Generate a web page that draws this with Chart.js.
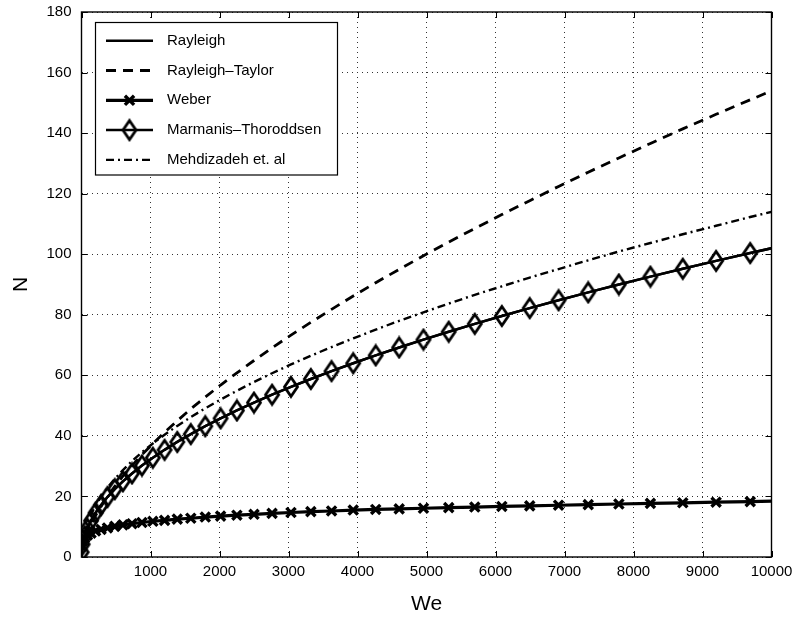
<!DOCTYPE html>
<html>
<head>
<meta charset="utf-8">
<script src="https://cdn.jsdelivr.net/npm/chart.js@4.4.1/dist/chart.umd.min.js"></script>
<style>
html,body{margin:0;padding:0;background:#fff;}
#wrap{width:795px;height:618px;}
</style>
</head>
<body>
<div id="wrap"><canvas id="c" width="795" height="618"></canvas></div>
<script>
// ---- data ----
const weValues = [2, 17, 44, 85, 138, 204, 284, 376, 482, 600, 732, 876, 1034, 1204, 1388, 1584, 1794, 2016, 2252, 2500,
  2762, 3036, 3324, 3624, 3938, 4264, 4604, 4956, 5322, 5700, 6092, 6496, 6914, 7344, 7788, 8245, 8714, 9197, 9692, 10201];

const rayleighN = [1.6, 4.2, 6.8, 9.4, 12.0, 14.6, 17.2, 19.8, 22.4, 25.0, 27.6, 30.2, 32.8, 35.4, 38.0, 40.6, 43.2, 45.8, 48.4, 51.0,
  53.6, 56.2, 58.8, 61.4, 64.0, 66.6, 69.2, 71.8, 74.4, 77.0, 79.6, 82.2, 84.8, 87.4, 90.0, 92.6, 95.2, 97.8, 100.4, 103.0];

const rayleighTaylorN = [0.9, 2.9, 5.3, 7.9, 10.7, 13.7, 16.7, 20.0, 23.3, 26.7, 30.2, 33.8, 37.4, 41.2, 45.0, 48.9, 52.8, 56.8, 60.8, 64.9,
  69.1, 73.3, 77.5, 81.8, 86.2, 90.6, 95.0, 99.5, 104.0, 108.5, 113.1, 117.7, 122.4, 127.1, 131.8, 136.6, 141.4, 146.2, 151.0, 155.9];

const weberN = [3.6, 5.2, 6.3, 7.2, 7.9, 8.6, 9.1, 9.6, 10.1, 10.6, 11.0, 11.4, 11.8, 12.1, 12.5, 12.8, 13.2, 13.5, 13.8, 14.1,
  14.4, 14.7, 15.0, 15.2, 15.5, 15.7, 15.9, 16.1, 16.3, 16.5, 16.7, 16.9, 17.1, 17.3, 17.5, 17.7, 17.9, 18.1, 18.3, 18.5];

const marmanisN = [1.6, 4.2, 6.8, 9.4, 12.0, 14.6, 17.2, 19.8, 22.4, 25.0, 27.6, 30.2, 32.8, 35.4, 38.0, 40.6, 43.2, 45.8, 48.4, 51.0,
  53.6, 56.2, 58.8, 61.4, 64.0, 66.6, 69.2, 71.8, 74.4, 77.0, 79.6, 82.2, 84.8, 87.4, 90.0, 92.6, 95.2, 97.8, 100.4, 103.0];

const mehdizadehN = [1.9, 5.0, 8.0, 11.0, 14.0, 17.0, 19.9, 22.9, 25.8, 28.7, 31.7, 34.6, 37.5, 40.4, 43.3, 46.2, 49.1, 52.0, 54.9, 57.8,
  60.7, 63.6, 66.5, 69.3, 72.2, 75.1, 78.0, 80.8, 83.7, 86.6, 89.4, 92.3, 95.1, 98.0, 100.9, 103.7, 106.6, 109.4, 112.3, 115.1];

const seriesNames = ['Rayleigh', 'Rayleigh\u2013Taylor', 'Weber', 'Marmanis\u2013Thoroddsen', 'Mehdizadeh et. al'];
const xTickValues = [0, 1000, 2000, 3000, 4000, 5000, 6000, 7000, 8000, 9000, 10000];
const yTickValues = [0, 20, 40, 60, 80, 100, 120, 140, 160, 180];
const xTitle = 'We';
const yTitle = 'N';

// ---- styling ----
const FONT = "'Liberation Sans', Arial, Helvetica, sans-serif";

// hollow diamond marker
const diamond = document.createElement('canvas');
diamond.width = 18; diamond.height = 24;
(function(){
  const g = diamond.getContext('2d');
  g.strokeStyle = '#000'; g.lineWidth = 2.8; g.lineJoin = 'miter';
  g.beginPath();
  g.moveTo(9, 2.5); g.lineTo(15.5, 12); g.lineTo(9, 21.5); g.lineTo(2.5, 12); g.closePath();
  g.stroke();
})();

function pts(ys){ return weValues.map((x, i) => ({x: x, y: ys[i]})); }

const datasets = [
  {label: seriesNames[0], data: pts(rayleighN), borderColor: '#000', borderWidth: 2.5, pointRadius: 0},
  {label: seriesNames[1], data: pts(rayleighTaylorN), borderColor: '#000', borderWidth: 2.8, borderDash: [10, 7], pointRadius: 0},
  {label: seriesNames[2], data: pts(weberN), borderColor: '#000', borderWidth: 3.2, pointStyle: 'crossRot',
    pointRadius: 6.5, pointBorderWidth: 3.4, pointBorderColor: '#000', pointBackgroundColor: '#000'},
  {label: seriesNames[3], data: pts(marmanisN), borderColor: '#000', borderWidth: 2.5, pointStyle: diamond,
    pointRadius: 8, pointBorderColor: '#000', pointBackgroundColor: 'rgba(0,0,0,0)'},
  {label: seriesNames[4], data: pts(mehdizadehN), borderColor: '#000', borderWidth: 2.4, borderDash: [8, 4, 2, 4], pointRadius: 0}
];
datasets.forEach(d => { d.fill = false; d.tension = 0; d.clip = 0; d.order = 0; });

const framePlugin = {
  id: 'frame',
  afterDraw(chart) {
    const ctx = chart.ctx, a = chart.chartArea;
    const xs = chart.scales.x, ys = chart.scales.y;
    ctx.save();
    ctx.strokeStyle = '#000';
    ctx.lineWidth = 1;
    ctx.setLineDash([]);
    const TL = 6;
    ctx.beginPath();
    xTickValues.forEach(v => {
      const px = Math.round(xs.getPixelForValue(v)) + 0.5;
      ctx.moveTo(px, a.bottom); ctx.lineTo(px, a.bottom - TL);
      ctx.moveTo(px, a.top); ctx.lineTo(px, a.top + TL);
    });
    yTickValues.forEach(v => {
      const py = Math.round(ys.getPixelForValue(v)) + 0.5;
      ctx.moveTo(a.left, py); ctx.lineTo(a.left + TL, py);
      ctx.moveTo(a.right, py); ctx.lineTo(a.right - TL, py);
    });
    ctx.stroke();
    ctx.lineWidth = 1.4;
    ctx.strokeRect(a.left, a.top, a.right - a.left, a.bottom - a.top);

    // legend box
    const bx = 95.5, by = 22.5, bw = 242, bh = 152.5;
    ctx.fillStyle = '#fff';
    ctx.fillRect(bx, by, bw, bh);
    ctx.lineWidth = 1.2;
    ctx.strokeRect(bx, by, bw, bh);
    ctx.font = '15px ' + FONT;
    ctx.textBaseline = 'middle';
    ctx.textAlign = 'left';
    chart.data.datasets.forEach((ds, i) => {
      const y = 40.7 + i * 29.8;
      ctx.save();
      ctx.strokeStyle = ds.borderColor;
      ctx.lineWidth = ds.borderWidth;
      ctx.setLineDash(ds.borderDash || []);
      ctx.beginPath(); ctx.moveTo(106, y); ctx.lineTo(153, y); ctx.stroke();
      ctx.restore();
      const cx = 129.5;
      if (ds.pointRadius > 0) {
        if (ds.pointStyle === 'crossRot') {
          const r = ds.pointRadius * Math.SQRT1_2;
          ctx.save();
          ctx.strokeStyle = '#000'; ctx.lineWidth = ds.pointBorderWidth;
          ctx.beginPath();
          ctx.moveTo(cx - r, y - r); ctx.lineTo(cx + r, y + r);
          ctx.moveTo(cx - r, y + r); ctx.lineTo(cx + r, y - r);
          ctx.stroke();
          ctx.restore();
        } else if (typeof ds.pointStyle === 'object') {
          ctx.drawImage(ds.pointStyle, cx - ds.pointStyle.width / 2, y - ds.pointStyle.height / 2);
        }
      }
      ctx.fillStyle = '#000';
      ctx.fillText(ds.label, 167, y);
    });
    ctx.restore();
  }
};

new Chart(document.getElementById('c'), {
  type: 'line',
  data: {datasets: datasets},
  options: {
    responsive: false,
    animation: false,
    devicePixelRatio: 1,
    events: [],
    layout: {padding: {left: 0, right: 23.5, top: 12, bottom: 0}},
    plugins: {legend: {display: false}, tooltip: {enabled: false}},
    scales: {
      x: {
        type: 'linear', min: 0, max: 10000,
        afterBuildTicks: s => { s.ticks = xTickValues.map(v => ({value: v})); },
        afterFit: s => { s.height = 61; s.paddingLeft = 0; s.paddingRight = 0; s.paddingTop = 0; s.paddingBottom = 0; },
        ticks: {
          color: '#000', font: {family: FONT, size: 15}, padding: 6, maxRotation: 0, autoSkip: false,
          callback: v => (v === 0 ? '' : String(v))
        },
        grid: {color: '#333', lineWidth: 1, drawTicks: false},
        border: {display: false, dash: [1, 4]},
        title: {display: true, text: xTitle, color: '#000', font: {family: FONT, size: 21}, padding: {top: 0, bottom: 1}}
      },
      y: {
        type: 'linear', min: 0, max: 180,
        afterBuildTicks: s => { s.ticks = yTickValues.map(v => ({value: v})); },
        afterFit: s => { s.width = 81.5; s.paddingLeft = 0; s.paddingRight = 0; s.paddingTop = 0; s.paddingBottom = 0; },
        ticks: {color: '#000', font: {family: FONT, size: 15}, padding: 10, autoSkip: false},
        grid: {color: '#333', lineWidth: 1, drawTicks: false},
        border: {display: false, dash: [1, 4]},
        title: {display: true, text: yTitle, color: '#000', font: {family: FONT, size: 21}, padding: {top: 9, bottom: 0}}
      }
    }
  },
  plugins: [framePlugin]
});
</script>
</body>
</html>
